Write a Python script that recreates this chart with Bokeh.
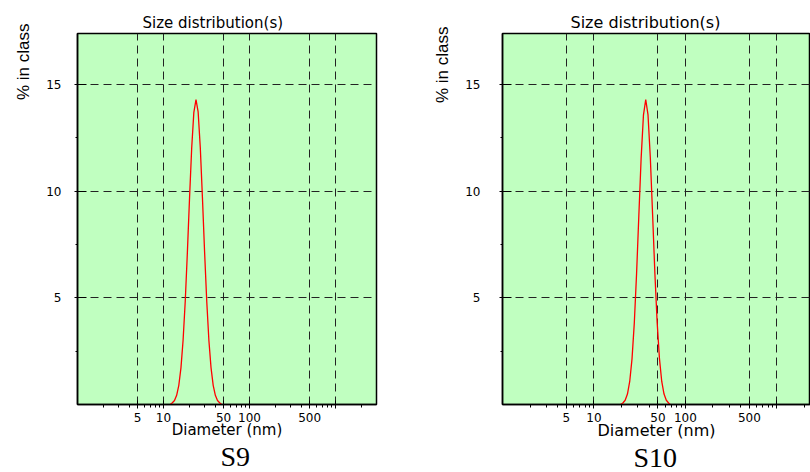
from bokeh.plotting import figure
from bokeh.models import FixedTicker, Title, BasicTickFormatter
from bokeh.layouts import row
from bokeh.embed import file_html
from bokeh.resources import INLINE

# ---- data ----
s9_diameter = [12.0, 12.68, 13.43, 14.22, 15.07, 15.96, 16.90, 17.91, 18.97, 20.09, 21.28, 22.54,
               23.88, 25.29, 26.79, 28.38, 30.06, 31.84, 33.73, 35.73, 37.84, 40.09, 42.46, 44.98, 47.5]
s9_percent = [0.0, 0.08, 0.19, 0.43, 0.90, 1.72, 3.01, 4.85, 7.16, 9.69, 12.03, 13.70,
              14.30, 13.72, 12.05, 9.70, 7.15, 4.84, 3.00, 1.72, 0.90, 0.43, 0.19, 0.08, 0.0]

s10_diameter = [19.5, 20.70, 21.93, 23.23, 24.60, 26.06, 27.61, 29.24, 30.97, 32.81, 34.75, 36.81,
                38.99, 41.30, 43.75, 46.34, 49.09, 52.00, 55.08, 58.34, 61.80, 65.46, 68.0]
s10_percent = [0.0, 0.07, 0.20, 0.49, 1.08, 2.14, 3.83, 6.15, 8.90, 11.58, 13.57, 14.30,
               13.58, 11.60, 8.92, 6.16, 3.84, 2.15, 1.08, 0.49, 0.20, 0.07, 0.0]

x_major_ticks = [5, 10, 50, 100, 500, 1000]
x_minor_ticks = [2, 3, 4, 6, 7, 8, 9, 20, 30, 40, 60, 70, 80, 90,
                 200, 300, 400, 600, 700, 800, 900, 2000]
y_major_ticks = [5, 10, 15]
y_minor_ticks = [2.5, 7.5, 12.5]

title_text = "Size distribution(s)"
x_label_text = "Diameter (nm)"
y_label_text = "% in class"
panel_names = ["S9", "S10"]

GREEN = "#c0ffc0"


def make_panel(diam, pct, name, width, mb_left, mb_right, mb_top, x_end, text_px,
               title_offset, title_standoff, name_offset, tick_standoff, ylab_offset,
               ylab_standoff):
    p = figure(width=width, height=472, x_axis_type="log",
               x_range=(1, x_end), y_range=(0, 17.4),
               output_backend="svg", toolbar_location=None,
               min_border_left=mb_left, min_border_right=mb_right,
               min_border_top=mb_top, min_border_bottom=68)
    p.background_fill_color = GREEN
    p.border_fill_color = "white"
    p.outline_line_color = "black"
    p.outline_line_width = 1.5

    p.line(diam, pct, line_color="#ff0000", line_width=1.3)

    xa = p.xaxis[0]
    xa.ticker = FixedTicker(ticks=x_major_ticks, minor_ticks=x_minor_ticks)
    xa.formatter = BasicTickFormatter()
    xa.major_label_overrides = {1000: ""}
    xa.major_tick_out = 4
    xa.major_tick_in = 4
    xa.minor_tick_out = 3
    xa.minor_tick_in = 0
    xa.major_label_standoff = 4
    xa.major_label_text_font = "DejaVu Sans"
    xa.major_label_text_font_size = "12px"
    xa.major_label_text_color = "black"
    xa.axis_line_width = 1.5
    xa.axis_line_color = "black"
    xa.axis_label = x_label_text
    xa.axis_label_standoff = -4
    xa.axis_label_text_font = "DejaVu Sans"
    xa.axis_label_text_font_size = text_px
    xa.axis_label_text_font_style = "normal"
    xa.axis_label_text_color = "black"

    ya = p.yaxis[0]
    ya.ticker = FixedTicker(ticks=y_major_ticks, minor_ticks=y_minor_ticks)
    ya.formatter = BasicTickFormatter()
    ya.major_tick_out = 3
    ya.major_tick_in = 9
    ya.minor_tick_out = 2
    ya.minor_tick_in = 0
    ya.major_label_standoff = tick_standoff
    ya.major_label_text_font = "DejaVu Sans"
    ya.major_label_text_font_size = "12px"
    ya.major_label_text_color = "black"
    ya.axis_line_width = 1.5
    ya.axis_line_color = "black"

    for g in (p.xgrid[0], p.ygrid[0]):
        g.grid_line_color = "#222222"
        g.grid_line_width = 1
        g.grid_line_dash = "8 5"

    p.add_layout(Title(text=title_text, align="left", offset=title_offset,
                       standoff=title_standoff, text_font="DejaVu Sans", text_font_size=text_px,
                       text_font_style="normal", text_color="black"), "above")
    p.add_layout(Title(text=y_label_text, align="right", offset=ylab_offset,
                       standoff=ylab_standoff, text_font="Liberation Sans", text_font_size="17px",
                       text_font_style="normal", text_color="black"), "left")
    p.add_layout(Title(text=name, align="left", offset=name_offset, standoff=-5,
                       text_font="Liberation Serif", text_font_size="28px",
                       text_font_style="normal", text_color="black"), "below")
    return p


p1 = make_panel(s9_diameter, s9_percent, panel_names[0], width=420, mb_left=77, mb_right=44,
                mb_top=33, x_end=3000, text_px="15px", title_offset=65, title_standoff=4,
                name_offset=143, tick_standoff=13, ylab_offset=-10, ylab_standoff=21)
p2 = make_panel(s10_diameter, s10_percent, panel_names[1], width=390, mb_left=82, mb_right=0,
                mb_top=28, x_end=2330, text_px="16px", title_offset=68, title_standoff=3,
                name_offset=131, tick_standoff=19, ylab_offset=-7, ylab_standoff=21)

layout = row(p1, p2)
open("out.html", "w").write(file_html(layout, INLINE))
